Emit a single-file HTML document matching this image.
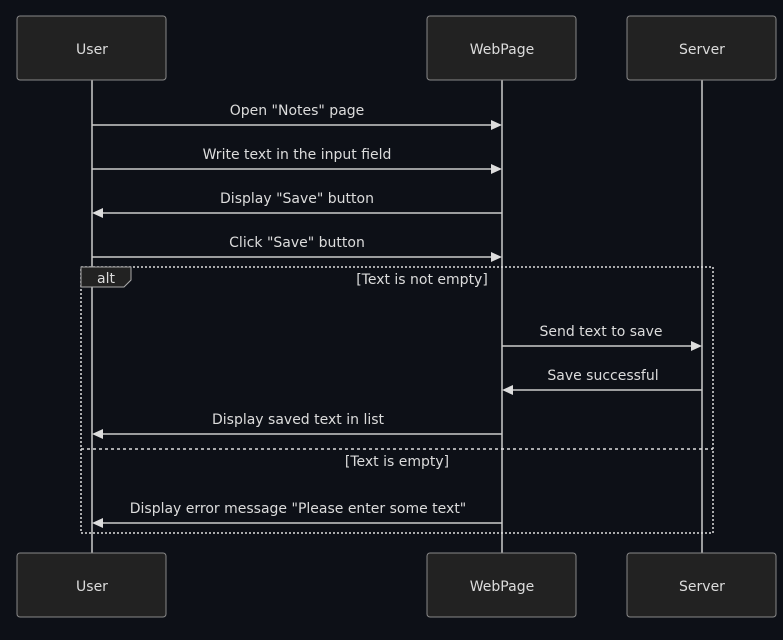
<!DOCTYPE html>
<html><head><meta charset="utf-8"><style>
body{margin:0;background:#0d1017;}
svg{display:block}
text{font-family:"DejaVu Sans",sans-serif;font-size:14px;fill:#dcdcdc}
</style></head><body>
<svg width="783" height="640" viewBox="0 0 783 640">
<rect width="783" height="640" fill="#0d1017"/>
<g stroke="#cccccc" stroke-width="1.5">
<line x1="92" y1="80" x2="92" y2="553"/>
<line x1="502" y1="80" x2="502" y2="553"/>
<line x1="702" y1="80" x2="702" y2="553"/>
</g>
<g fill="#222222" stroke="#888" stroke-width="1">
<rect x="17" y="16" width="149" height="64" rx="3"/>
<rect x="427" y="16" width="149" height="64" rx="3"/>
<rect x="627" y="16" width="149" height="64" rx="3"/>
<rect x="17" y="553" width="149" height="64" rx="3"/>
<rect x="427" y="553" width="149" height="64" rx="3"/>
<rect x="627" y="553" width="149" height="64" rx="3"/>
</g>
<g text-anchor="middle">
<text x="92" y="54">User</text><text x="502" y="54">WebPage</text><text x="702" y="54">Server</text>
<text x="92" y="591">User</text><text x="502" y="591">WebPage</text><text x="702" y="591">Server</text>
</g>
<rect x="81" y="267" width="632" height="266" fill="none" stroke="#ddd" stroke-width="1.5" stroke-dasharray="2,2"/>
<line x1="81" y1="449" x2="713" y2="449" stroke="#ddd" stroke-width="1.5" stroke-dasharray="3,3"/>
<path d="M81 267 H131 V280 L124 287 H81 Z" fill="#222" stroke="#aaa" stroke-width="1"/>
<text x="106" y="283" text-anchor="middle">alt</text>
<text x="422" y="284" text-anchor="middle">[Text is not empty]</text>
<text x="397" y="466" text-anchor="middle">[Text is empty]</text>
<g stroke="#cccccc" stroke-width="1.5">
<line x1="92" y1="125" x2="494" y2="125"/>
<line x1="92" y1="169" x2="494" y2="169"/>
<line x1="100" y1="213" x2="502" y2="213"/>
<line x1="92" y1="257" x2="494" y2="257"/>
<line x1="502" y1="346" x2="694" y2="346"/>
<line x1="510" y1="390" x2="702" y2="390"/>
<line x1="100" y1="434" x2="502" y2="434"/>
<line x1="100" y1="523" x2="502" y2="523"/>
</g>
<g fill="#dddddd">
<path d="M502 125 l-11 -5 v10z"/>
<path d="M502 169 l-11 -5 v10z"/>
<path d="M92 213 l11 -5 v10z"/>
<path d="M502 257 l-11 -5 v10z"/>
<path d="M702 346 l-11 -5 v10z"/>
<path d="M502 390 l11 -5 v10z"/>
<path d="M92 434 l11 -5 v10z"/>
<path d="M92 523 l11 -5 v10z"/>
</g>
<g text-anchor="middle">
<text x="297" y="115">Open "Notes" page</text>
<text x="297" y="159">Write text in the input field</text>
<text x="297" y="203">Display "Save" button</text>
<text x="297" y="247">Click "Save" button</text>
<text x="601" y="336">Send text to save</text>
<text x="603" y="380">Save successful</text>
<text x="298" y="424">Display saved text in list</text>
<text x="298" y="513">Display error message "Please enter some text"</text>
</g>
</svg>
</body></html>
